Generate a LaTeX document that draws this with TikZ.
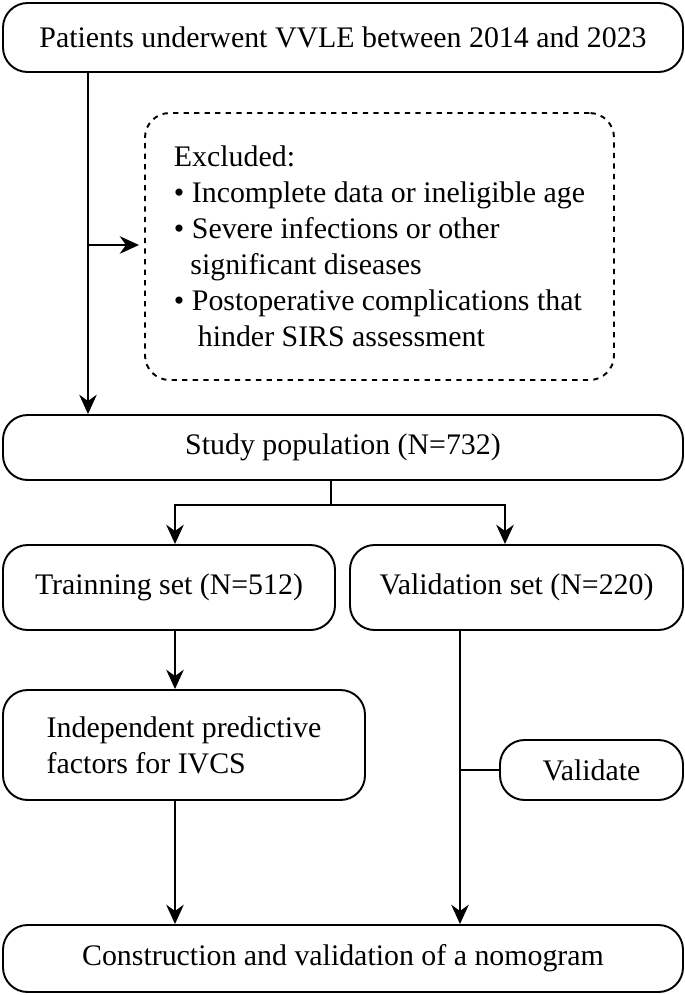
\documentclass[tikz,border=0pt]{standalone}
\usepackage{fontspec}
\setmainfont{Liberation Serif}
\usetikzlibrary{arrows.meta,positioning,calc}

\begin{document}
\begin{tikzpicture}[
    x=0.02cm, y=-0.02cm,
    every node/.style={font=\fontsize{17}{20.5}\selectfont},
    box/.style={rectangle, draw, line width=1.1pt, rounded corners=14pt, inner sep=0pt, align=center},
    dashbox/.style={rectangle, draw, line width=1.1pt, dashed, rounded corners=14pt, inner sep=0pt, align=left},
    arrow/.style={-{Stealth[length=11pt,width=10pt]}, line width=1.1pt},
    line/.style={line width=1.1pt}
]
\useasboundingbox (0,0) rectangle (685,995);

% Boxes
\node[box, minimum width=680*0.02cm, minimum height=69*0.02cm] (patients) at (343,37.5)
    {Patients underwent VVLE between 2014 and 2023};
\node[dashbox, minimum width=469*0.02cm, minimum height=267*0.02cm] (excluded) at (379.5,246.5)
    {Excluded:\\
     \textbullet{} Incomplete data or ineligible age\\
     \textbullet{} Severe infections or other\\
     \hspace{0.55em}significant diseases\\
     \textbullet{} Postoperative complications that\\
     \hspace{0.8em}hinder SIRS assessment};
\node[box, minimum width=680*0.02cm, minimum height=65*0.02cm] (study) at (343,447.5)
    {Study population (N=732)};
\node[box, minimum width=332*0.02cm, minimum height=85*0.02cm] (train) at (169,587.5)
    {Trainning set (N=512)};
\node[box, minimum width=333*0.02cm, minimum height=85*0.02cm] (valid) at (516.5,587.5)
    {Validation set (N=220)};
\node[box, align=left, minimum width=362*0.02cm, minimum height=110*0.02cm] (factors) at (184,745)
    {Independent predictive\\factors for IVCS};
\node[box, minimum width=183*0.02cm, minimum height=60*0.02cm] (validate) at (591.5,770)
    {Validate};
\node[box, minimum width=680*0.02cm, minimum height=67*0.02cm] (nomogram) at (343,958.5)
    {Construction and validation of a nomogram};

% Helper points
\coordinate (split) at (88,245);
\coordinate (fork) at (331,505);
\coordinate (vline) at (460,770);

% Connectors
\draw[arrow] (patients.south -| split) -- (study.north -| split);
\draw[arrow] (split) -- ($(excluded.west |- split)+(-5,0)$);
\draw[line] (study.south -| fork) -- (fork);
\draw[arrow] (fork) -| (train.north -| 175,0);
\draw[arrow] (fork) -| (valid.north -| 505,0);
\draw[arrow] (train.south -| 175,0) -- (factors.north -| 175,0);
\draw[arrow] (factors.south -| 175,0) -- (nomogram.north -| 175,0);
\draw[arrow] (valid.south -| vline) -- (nomogram.north -| vline);
\draw[line] (vline) -- (validate.west);

\end{tikzpicture}
\end{document}
